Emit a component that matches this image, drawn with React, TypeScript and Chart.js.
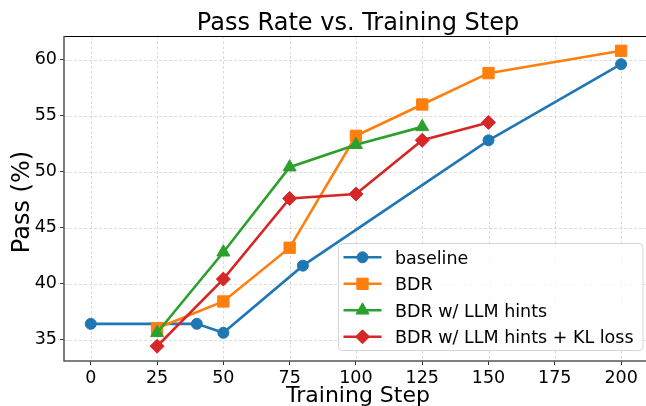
import React, { useEffect, useRef } from 'react';
import { Chart, registerables } from 'chart.js';

Chart.register(...registerables);

const chartTitle = 'Pass Rate vs. Training Step';
const xAxisLabel = 'Training Step';
const yAxisLabel = 'Pass (%)';

const seriesNames = ['baseline', 'BDR', 'BDR w/ LLM hints', 'BDR w/ LLM hints + KL loss'];
const seriesColors = ['#1f77b4', '#ff7f0e', '#2ca02c', '#d62728'];
const seriesMarkers = ['circle', 'rect', 'triangle', 'rectRot'];

const baselineSteps = [0, 40, 50, 80, 150, 200];
const baselinePass = [36.4, 36.4, 35.6, 41.6, 52.8, 59.6];
const bdrSteps = [25, 50, 75, 100, 125, 150, 200];
const bdrPass = [36.0, 38.4, 43.2, 53.2, 56.0, 58.8, 60.8];
const hintsSteps = [25, 50, 75, 100, 125];
const hintsPass = [35.6, 42.8, 50.4, 52.4, 54.0];
const klSteps = [25, 50, 75, 100, 125, 150];
const klPass = [34.4, 40.4, 47.6, 48.0, 52.8, 54.4];

const xTicks = [0, 25, 50, 75, 100, 125, 150, 175, 200];
const yTicks = [35, 40, 45, 50, 55, 60];

const FONT = '"DejaVu Sans", "Liberation Sans", sans-serif';
const markerRadius: Record<string, number> = { circle: 5.5, rect: 8, triangle: 7.5, rectRot: 7 };
const CANVAS_W = 646;

function drawMarker(ctx: CanvasRenderingContext2D, style: string, x: number, y: number, r: number, color: string) {
  ctx.beginPath();
  if (style === 'circle') {
    ctx.arc(x, y, r, 0, Math.PI * 2);
  } else if (style === 'rect') {
    const s = Math.SQRT1_2 * r;
    ctx.rect(x - s, y - s, 2 * s, 2 * s);
  } else if (style === 'triangle') {
    for (let i = 0; i < 3; i++) {
      const a = (i * 2 * Math.PI) / 3;
      const px = x + Math.sin(a) * r;
      const py = y - Math.cos(a) * r;
      if (i === 0) ctx.moveTo(px, py);
      else ctx.lineTo(px, py);
    }
    ctx.closePath();
  } else {
    ctx.moveTo(x - r, y);
    ctx.lineTo(x, y - r);
    ctx.lineTo(x + r, y);
    ctx.lineTo(x, y + r);
    ctx.closePath();
  }
  ctx.fillStyle = color;
  ctx.strokeStyle = color;
  ctx.lineWidth = 1;
  ctx.fill();
  ctx.stroke();
}

const gridPlugin = {
  id: 'mplGrid',
  beforeDatasetsDraw(chart: any) {
    const ctx: CanvasRenderingContext2D = chart.ctx;
    const a = chart.chartArea;
    const xs = chart.scales.x;
    const ys = chart.scales.y;
    ctx.save();
    ctx.strokeStyle = 'rgba(176,176,176,0.55)';
    ctx.lineWidth = 0.8;
    ctx.setLineDash([3, 2]);
    xTicks.forEach((v) => {
      const px = Math.round(xs.getPixelForValue(v)) + 0.5;
      ctx.beginPath();
      ctx.moveTo(px, a.top);
      ctx.lineTo(px, a.bottom);
      ctx.stroke();
    });
    yTicks.forEach((v) => {
      const py = Math.round(ys.getPixelForValue(v)) + 0.5;
      ctx.beginPath();
      ctx.moveTo(a.left, py);
      ctx.lineTo(CANVAS_W, py);
      ctx.stroke();
    });
    ctx.restore();
  },
};

const overlayPlugin = {
  id: 'overlay',
  afterDraw(chart: any) {
    const ctx: CanvasRenderingContext2D = chart.ctx;
    const a = chart.chartArea;
    ctx.save();
    // spines
    ctx.setLineDash([]);
    ctx.strokeStyle = '#000';
    ctx.lineWidth = 1;
    ctx.beginPath();
    ctx.moveTo(a.left, a.top + 0.5);
    ctx.lineTo(CANVAS_W, a.top + 0.5);
    ctx.stroke();
    ctx.strokeStyle = '#555';
    ctx.lineWidth = 1.5;
    ctx.beginPath();
    ctx.moveTo(a.left, a.top);
    ctx.lineTo(a.left, a.bottom);
    ctx.lineTo(CANVAS_W, a.bottom);
    ctx.stroke();

    // title
    ctx.fillStyle = '#000';
    ctx.font = `24px ${FONT}`;
    ctx.textAlign = 'center';
    ctx.textBaseline = 'alphabetic';
    ctx.fillText(chartTitle, 358, 30);

    // x label
    ctx.font = `22px ${FONT}`;
    ctx.fillText(xAxisLabel, 358, 402);

    // y label
    ctx.save();
    ctx.font = `24px ${FONT}`;
    ctx.translate(29, 202);
    ctx.rotate(-Math.PI / 2);
    ctx.fillText(yAxisLabel, 0, 0);
    ctx.restore();

    // legend
    const lx = 338.5, ly = 243.5, lw = 304.5, lh = 107;
    ctx.beginPath();
    if ((ctx as any).roundRect) (ctx as any).roundRect(lx, ly, lw, lh, 4);
    else ctx.rect(lx, ly, lw, lh);
    ctx.fillStyle = 'rgba(255,255,255,0.8)';
    ctx.fill();
    ctx.strokeStyle = 'rgba(204,204,204,0.8)';
    ctx.lineWidth = 1;
    ctx.stroke();
    const rows = [257.3, 283.8, 310.3, 336.8];
    ctx.font = `17.5px ${FONT}`;
    ctx.textAlign = 'left';
    ctx.textBaseline = 'alphabetic';
    seriesNames.forEach((name, i) => {
      const y = rows[i];
      ctx.strokeStyle = seriesColors[i];
      ctx.lineWidth = 2.6;
      ctx.beginPath();
      ctx.moveTo(343.5, y);
      ctx.lineTo(381.5, y);
      ctx.stroke();
      drawMarker(ctx, seriesMarkers[i], 362.5, y, markerRadius[seriesMarkers[i]], seriesColors[i]);
      ctx.fillStyle = '#000';
      ctx.fillText(name, 395, y + 6.3);
    });
    ctx.restore();
  },
};

export default function App() {
  const canvasRef = useRef<HTMLCanvasElement | null>(null);

  useEffect(() => {
    const canvas = canvasRef.current;
    if (!canvas) return;
    const allSteps = [baselineSteps, bdrSteps, hintsSteps, klSteps];
    const allPass = [baselinePass, bdrPass, hintsPass, klPass];
    const datasets = seriesNames.map((name, i) => ({
      label: name,
      data: allSteps[i].map((s, j) => ({ x: s, y: allPass[i][j] })),
      borderColor: seriesColors[i],
      backgroundColor: seriesColors[i],
      pointBackgroundColor: seriesColors[i],
      pointBorderColor: seriesColors[i],
      pointBorderWidth: 1,
      pointStyle: seriesMarkers[i] as any,
      pointRadius: markerRadius[seriesMarkers[i]],
      borderWidth: 2.6,
      tension: 0,
      fill: false,
      order: seriesNames.length - 1 - i,
    }));

    const gridCommon = {
      drawOnChartArea: false,
      drawTicks: true,
      tickLength: 4,
      tickColor: '#333',
      tickWidth: 1,
      tickBorderDash: [],
    };

    const chart = new Chart(canvas, {
      type: 'line',
      data: { datasets: datasets as any },
      plugins: [gridPlugin, overlayPlugin],
      options: {
        animation: false,
        responsive: false,
        devicePixelRatio: 1,
        layout: { padding: { top: 36, left: 0, right: 0, bottom: 0 } },
        plugins: {
          legend: { display: false },
          title: { display: false },
          tooltip: { enabled: false },
        },
        scales: {
          x: {
            type: 'linear',
            min: -10.1,
            max: 206,
            afterBuildTicks: (scale: any) => {
              scale.ticks = xTicks.map((v) => ({ value: v }));
            },
            afterFit: (scale: any) => {
              scale.height = 45;
              scale.paddingLeft = 0;
              scale.paddingRight = 0;
            },
            grid: gridCommon as any,
            border: { display: false },
            ticks: {
              autoSkip: false,
              maxRotation: 0,
              minRotation: 0,
              padding: 3,
              color: '#000',
              font: { family: FONT, size: 17.5 },
              callback: (v: any) => String(v),
            },
          },
          y: {
            type: 'linear',
            min: 33.08,
            max: 62.12,
            afterBuildTicks: (scale: any) => {
              scale.ticks = yTicks.map((v) => ({ value: v }));
            },
            afterFit: (scale: any) => {
              scale.width = 64;
            },
            grid: gridCommon as any,
            border: { display: false },
            ticks: {
              padding: 3,
              color: '#000',
              font: { family: FONT, size: 17.5 },
              callback: (v: any) => String(v),
            },
          },
        },
      },
    });
    return () => chart.destroy();
  }, []);

  return (
    <div style={{ position: 'fixed', left: 0, top: 0, width: 646, height: 406, overflow: 'hidden', background: '#fff' }}>
      <canvas ref={canvasRef} width={646} height={406} style={{ display: 'block', width: 646, height: 406 }} />
    </div>
  );
}
